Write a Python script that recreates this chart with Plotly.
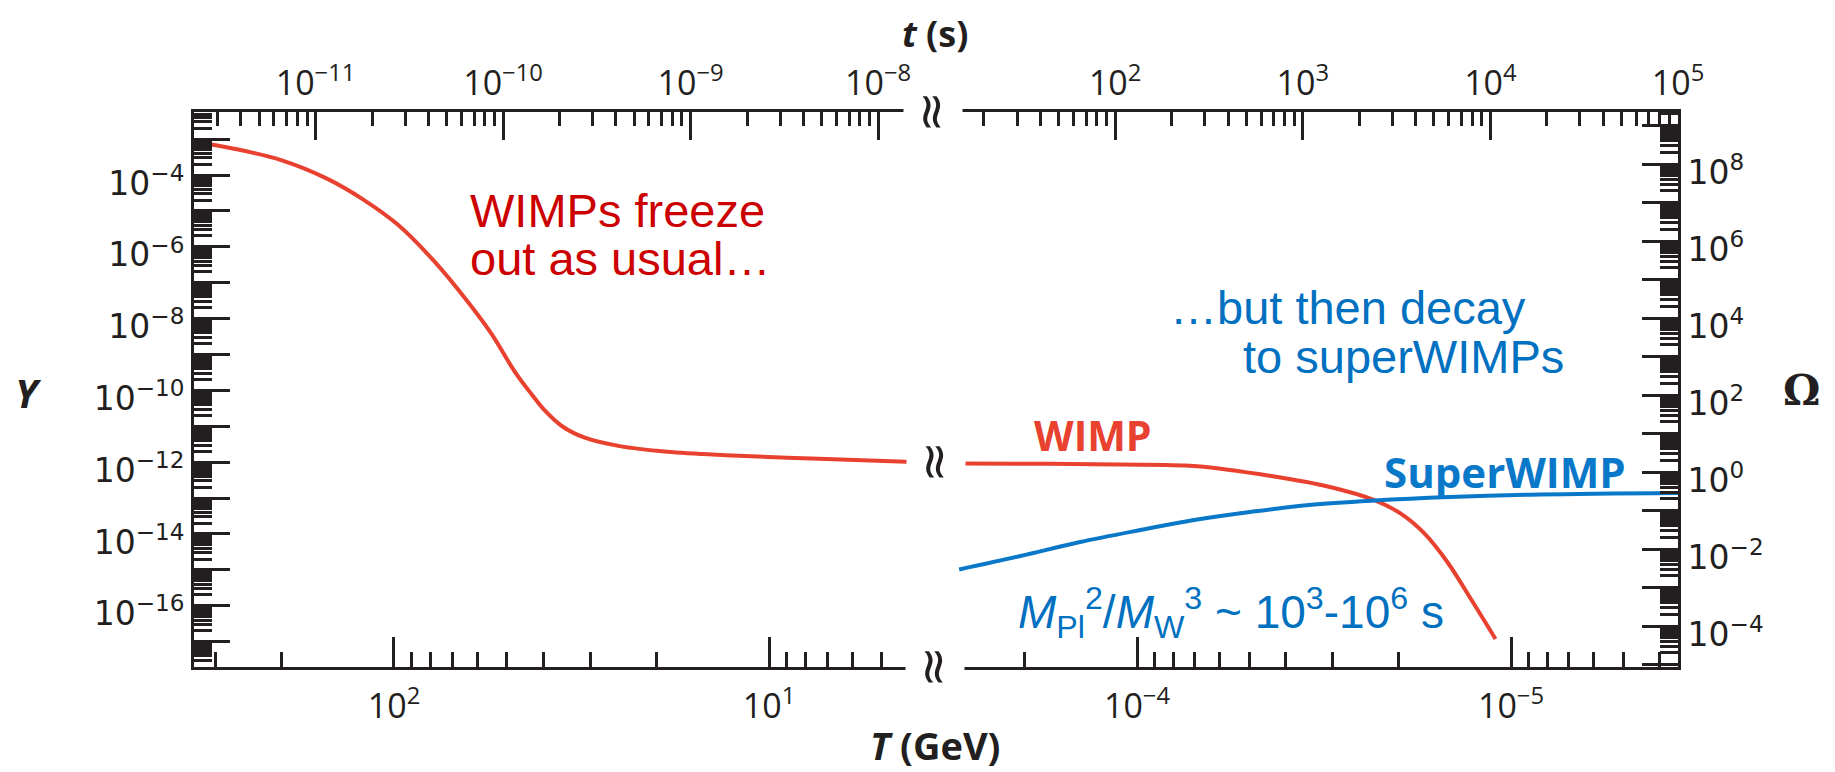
import plotly.graph_objects as go
import math

# ---------------- data ----------------
# WIMP yield before the axis break (T in GeV)
T_wimp_hi = [341, 267, 200, 150, 121, 97.6, 78.7, 63.5, 55, 47.6, 42.7, 39.8, 35.7,
             31.0, 25.0, 18.7, 13.05, 7.36, 4.13]
Y_wimp_hi = [8.5e-4, 5.4e-4, 2.6e-4, 7.7e-5, 2.1e-5, 4.1e-6, 4.3e-7, 2.9e-8, 3.8e-9,
             3.3e-10, 7.2e-11, 2.9e-11, 1.02e-11, 4.8e-12, 2.8e-12, 1.96e-12, 1.57e-12,
             1.24e-12, 1.01e-12]
# WIMP yield after the axis break
T_wimp_lo = [2.99e-4, 1.71e-4, 1.11e-4, 7.04e-5, 4.38e-5, 3.05e-5, 2.32e-5, 1.98e-5,
             1.71e-5, 1.48e-5, 1.29e-5, 1.10e-5]
Y_wimp_lo = [9.2e-13, 9.0e-13, 8.6e-13, 7.8e-13, 4.1e-13, 2.04e-13, 8.8e-14, 3.8e-14,
             1.07e-14, 1.66e-15, 1.76e-16, 1.19e-17]
# SuperWIMP yield
T_swimp = [2.99e-4, 2.05e-4, 1.42e-4, 9.8e-5, 7.04e-5, 4.99e-5, 3.47e-5, 2.32e-5,
           1.46e-5, 8.37e-6, 3.58e-6]
Y_swimp = [1.03e-15, 2.44e-15, 5.98e-15, 1.29e-14, 2.45e-14, 4.10e-14, 6.43e-14,
           8.57e-14, 1.07e-13, 1.26e-13, 1.39e-13]

# axis ranges (log10)
T_range_hi = [2.5333, 0.5627]
T_range_lo = [-3.4545, -5.4465]
t_range_hi = [-11.6485, -7.707]
t_range_lo = [1.0293, 5.0]
Y_range = [-17.705, -2.245]
Omega_range = [-5.065, 9.351]

# tick labels
T_ticks_hi = [100, 10]
T_ticks_lo = [1e-4, 1e-5]
t_ticks_hi = [1e-11, 1e-10, 1e-9, 1e-8]
t_ticks_lo = [1e2, 1e3, 1e4, 1e5]
Y_exps = list(range(-17, -2))
Y_label_exps = [-4, -6, -8, -10, -12, -14, -16]
Om_exps = list(range(-5, 10))
Om_label_exps = [8, 6, 4, 2, 0, -2, -4]

INK = "#231F20"
RED = "#E8412F"
BLUE = "#0A78C8"
TXT_RED = "#CC0000"
TXT_BLUE = "#0070C0"

# page offset of the plot div (default body margin of the html page)
OFF = 8
W, H = 1835, 772
L, R, T, B = 194, 1678, 112, 667  # plot area in page pixels


def sup(e):
    s = str(e).replace("-", "\u2212")
    return f"10<sup>{s}</sup>"


def minors(lo, hi, skip=()):
    out = []
    for n in range(math.floor(lo) - 1, math.ceil(hi) + 1):
        for k in range(2, 10):
            v = k * 10 ** n
            lv = math.log10(v)
            if lo < lv < hi and not any(abs(lv - math.log10(s)) < 1e-6 for s in skip):
                out.append(v)
    return out


def nolines(xa, ya, xs):
    return go.Scatter(x=xs, y=[None] * len(xs), mode="lines", xaxis=xa, yaxis=ya,
                      showlegend=False, hoverinfo="skip")


fig = go.Figure()
fig.add_trace(go.Scatter(x=T_wimp_hi, y=Y_wimp_hi, mode="lines", line=dict(color=RED, width=4, shape="spline"),
                         xaxis="x", yaxis="y", showlegend=False, hoverinfo="skip"))
fig.add_trace(go.Scatter(x=T_wimp_lo, y=Y_wimp_lo, mode="lines", line=dict(color=RED, width=4, shape="spline"),
                         xaxis="x2", yaxis="y2", showlegend=False, hoverinfo="skip"))
fig.add_trace(go.Scatter(x=T_swimp, y=Y_swimp, mode="lines", line=dict(color=BLUE, width=4, shape="spline"),
                         xaxis="x2", yaxis="y2", showlegend=False, hoverinfo="skip"))
# empty traces so that the secondary axes (t, Omega, unlabeled decade ticks) are drawn
fig.add_trace(nolines("x3", "y", t_ticks_hi))
fig.add_trace(nolines("x4", "y2", t_ticks_lo))
fig.add_trace(nolines("x2", "y3", T_ticks_lo))
fig.add_trace(nolines("x", "y4", T_ticks_hi))
fig.add_trace(nolines("x2", "y5", T_ticks_lo))

d = (933 - L) / (R - L)

axis_common = dict(type="log", showgrid=False, zeroline=False, showline=True, linecolor=INK, linewidth=3,
                   ticks="inside", tickcolor=INK, tickwidth=2.7, tickmode="array")
xfont = dict(family="Open Sans", size=34, color=INK)
yfont = dict(family="DejaVu Sans", size=33, color=INK)


def minor_spec(vals, length):
    return dict(tickmode="array", tickvals=vals, ticks="inside", ticklen=length, tickwidth=2.7, tickcolor=INK)


fig.update_layout(
    width=W - OFF, height=H - OFF, autosize=False,
    margin=dict(l=L - OFF, r=W - R, t=T - OFF, b=H - B),
    paper_bgcolor="white", plot_bgcolor="white",
    xaxis=dict(**axis_common, domain=[0, d], anchor="y", side="bottom", range=T_range_hi,
               tickvals=T_ticks_hi, ticktext=[sup(2), sup(1)], ticklen=30, tickfont=xfont,
               ticklabelstandoff=7,
               minor=minor_spec(minors(T_range_hi[1], T_range_hi[0]), 15)),
    xaxis2=dict(**axis_common, domain=[d, 1], anchor="y2", side="bottom", range=T_range_lo,
                tickvals=T_ticks_lo, ticktext=[sup(-4), sup(-5)], ticklen=30, tickfont=xfont,
                ticklabelstandoff=7,
                minor=minor_spec(minors(T_range_lo[1], T_range_lo[0], skip=(3e-4,)), 15)),
    xaxis3=dict(**axis_common, overlaying="x", anchor="y", side="top", range=t_range_hi,
                tickvals=t_ticks_hi, ticktext=[sup(-11), sup(-10), sup(-9), sup(-8)], ticklen=28, tickfont=xfont,
                minor=minor_spec(minors(t_range_hi[0], t_range_hi[1]), 14)),
    xaxis4=dict(**axis_common, overlaying="x2", anchor="y2", side="top", range=t_range_lo,
                tickvals=t_ticks_lo, ticktext=[sup(2), sup(3), sup(4), sup(5)], ticklen=28, tickfont=xfont,
                minor=minor_spec(minors(t_range_lo[0], t_range_lo[1]), 14)),
    # Y axis: labelled decades
    yaxis=dict(**axis_common, domain=[0, 1], anchor="x", side="left", range=Y_range,
               tickvals=[10.0 ** e for e in Y_label_exps], ticktext=[sup(e) for e in Y_label_exps],
               ticklen=36, tickfont=yfont, ticklabelshift=8),
    # Y axis: every decade + minor ticks, no labels
    yaxis4=dict(**axis_common, overlaying="y", anchor="x", side="left", range=Y_range,
                tickvals=[10.0 ** e for e in Y_exps], showticklabels=False, ticklen=36,
                minor=minor_spec(minors(Y_range[0], Y_range[1]), 18)),
    yaxis2=dict(type="log", domain=[0, 1], anchor="x2", range=Y_range, visible=False),
    # Omega axis: labelled decades
    yaxis3=dict(**axis_common, overlaying="y2", anchor="x2", side="right", range=Omega_range,
                tickvals=[10.0 ** e for e in Om_label_exps], ticktext=[sup(e) for e in Om_label_exps],
                ticklen=36, tickfont=yfont, ticklabelshift=8),
    # Omega axis: every decade + minor ticks, no labels
    yaxis5=dict(**axis_common, overlaying="y2", anchor="x2", side="right", range=Omega_range,
                tickvals=[10.0 ** e for e in Om_exps], showticklabels=False, ticklen=36,
                minor=minor_spec(minors(Omega_range[0], Omega_range[1]), 18)),
)


def px(x):
    return (x - L) / float(R - L)


def py(y):
    return (B - y) / float(B - T)


def note(text, x, y, size, color, family="Liberation Sans", xanchor="left", yanchor="middle", **kw):
    fig.add_annotation(text=text, x=px(x), y=py(y), xref="paper", yref="paper", showarrow=False,
                       xanchor=xanchor, yanchor=yanchor, font=dict(family=family, size=size, color=color), **kw)


note("WIMPs freeze", 468, 210, 47, TXT_RED)
note("out as usual\u2026", 468, 259, 47, TXT_RED)
note("\u2026but then decay", 1168, 307, 47, TXT_BLUE)
note("to superWIMPs", 1241, 356, 47, TXT_BLUE)
note("<b>WIMP</b>", 1032, 435, 41, RED, family="Open Sans")
note("<b>SuperWIMP</b>", 1382, 471, 42, BLUE, family="Open Sans")
note("<i>M</i><sub>Pl</sub><sup>2</sup>/<i>M</i><sub>W</sub><sup>3</sup> ~ 10<sup>3</sup>-10<sup>6</sup> s",
     1016, 612, 46, TXT_BLUE)
note("<b><i>t</i> (s)</b>", 935, 8, 36, INK, family="Open Sans", xanchor="center", yanchor="top", borderpad=0)
note("<b><i>T</i> (GeV)</b>", 935, 772, 38, INK, family="Open Sans", xanchor="center", yanchor="bottom",
     borderpad=0)
note("<b><i>Y</i></b>", 28, 392, 40, INK, family="Open Sans", xanchor="center")
note("<b>\u03A9</b>", 1801, 390, 42, INK, family="DejaVu Serif", xanchor="center")

# axis-break marks
for bx, by in [(933, 112), (935, 667), (936, 462)]:
    note("\u2248", bx, by, 50, INK, family="DejaVu Sans", xanchor="center",
         textangle=90, bgcolor="white", borderpad=0)

fig.write_html("out.html")
